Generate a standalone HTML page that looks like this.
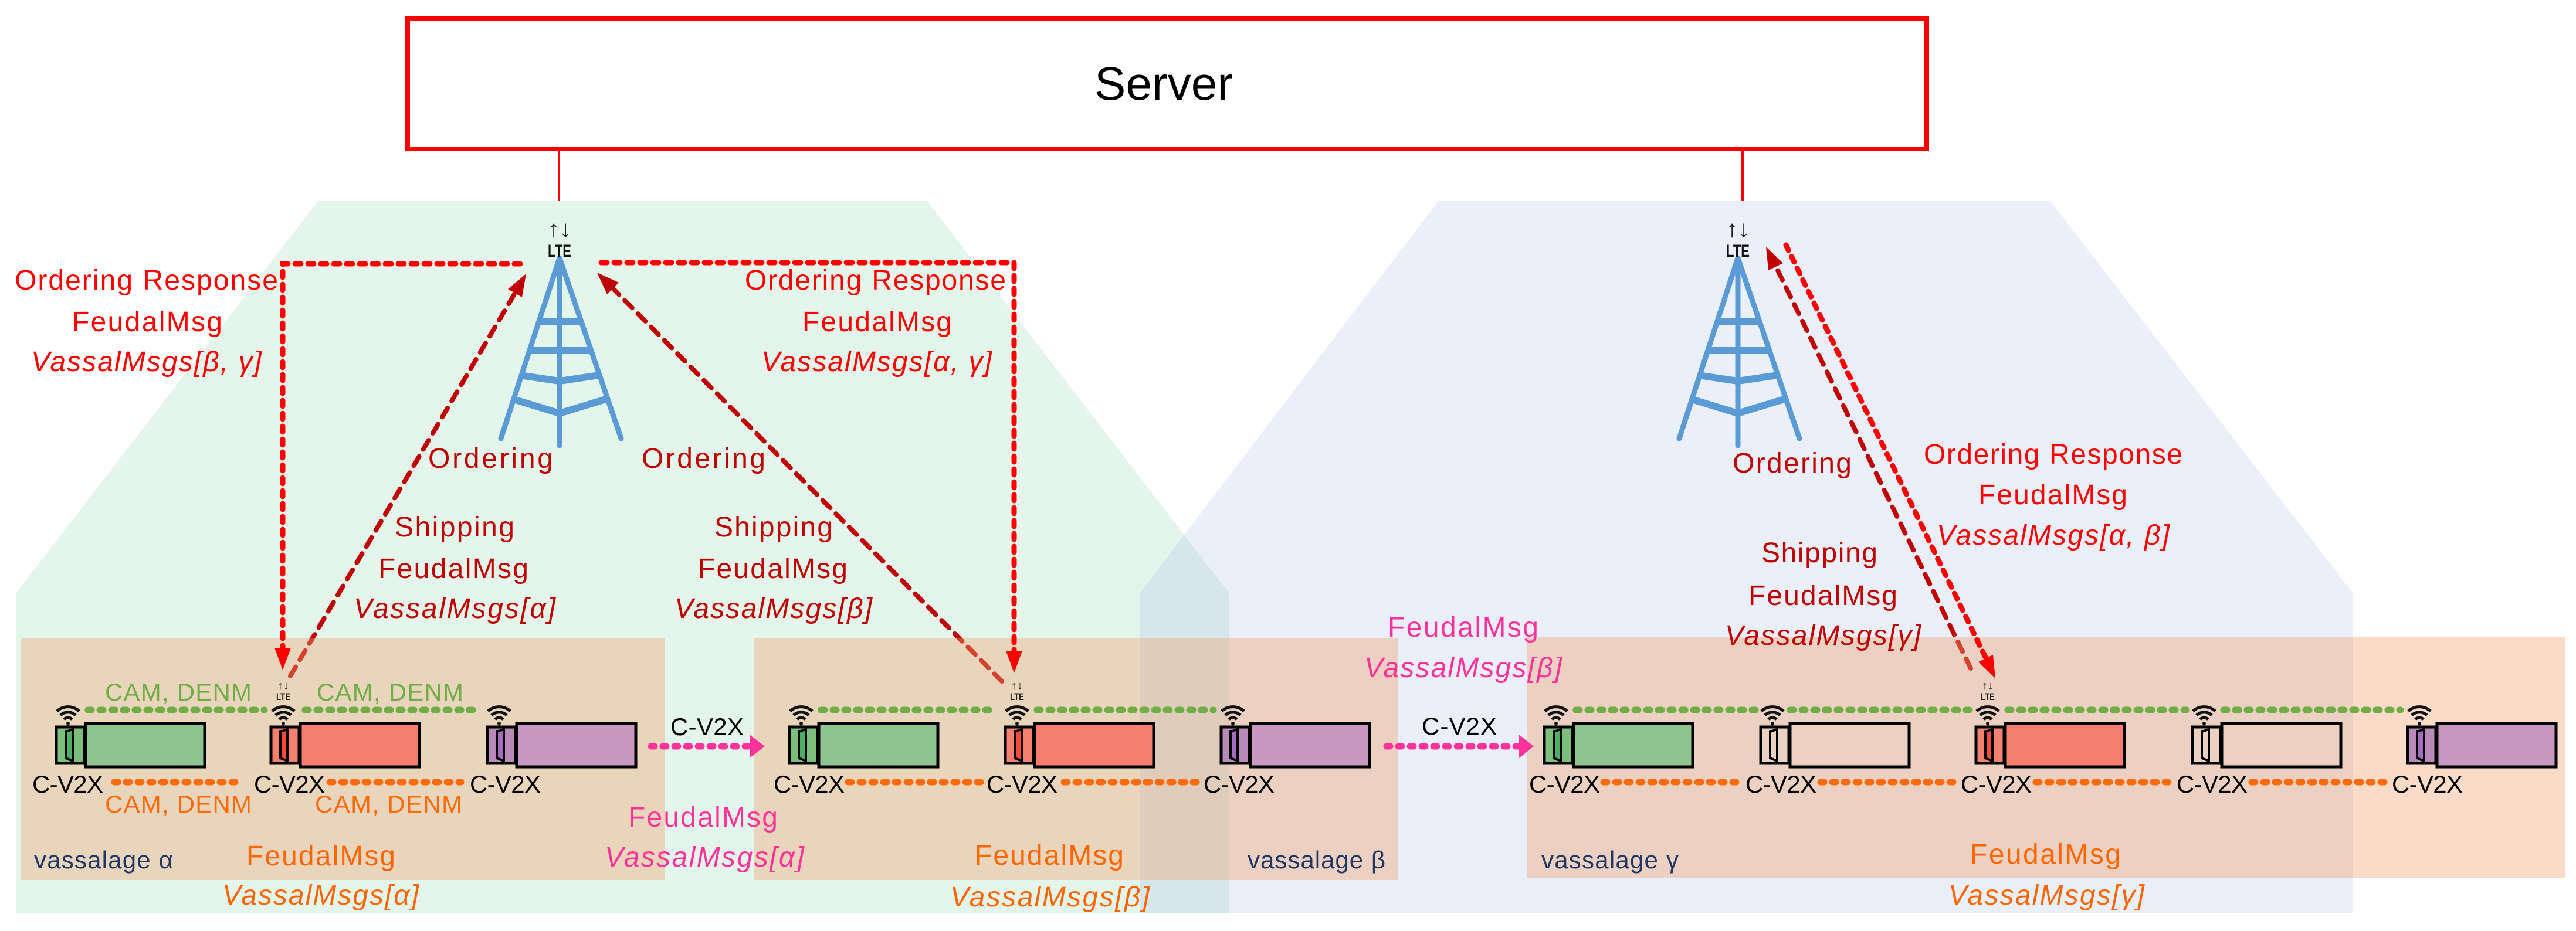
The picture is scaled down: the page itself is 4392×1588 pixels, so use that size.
<!DOCTYPE html>
<html><head><meta charset="utf-8"><style>html,body{margin:0;padding:0;background:#fff}svg{display:block}</style></head>
<body>
<svg xmlns="http://www.w3.org/2000/svg" width="4392" height="1588" viewBox="0 0 4392 1588" font-family="'Liberation Sans', sans-serif">
<rect width="4392" height="1588" fill="#fff"/>
<!-- regions -->
<polygon points="543,342 1580,342 2095,1011 2095,1558 28,1558 28,1011" fill="#e4f5ec"/>
<polygon points="2453,342 3495,342 4011,1011 4011,1558 1944,1558 1944,1011" fill="rgb(175,195,230)" fill-opacity="0.26"/>
<!-- server -->
<rect x="695" y="31" width="2590" height="223" fill="#fff" stroke="#ff0000" stroke-width="8"/>
<text x="1984" y="170" font-size="80" text-anchor="middle" textLength="236" lengthAdjust="spacingAndGlyphs">Server</text>
<line x1="953" y1="258" x2="953" y2="342" stroke="#ff0000" stroke-width="4"/>
<line x1="2971" y1="258" x2="2971" y2="342" stroke="#ff0000" stroke-width="4"/>

<!-- towers -->
<g stroke="#5b9bd5" stroke-width="9" fill="none" stroke-linecap="round">
  <path d="M954,440 L854,748 M954,440 L1059,748 M954,440 L954,760"/>
  <path stroke-width="12" stroke-linecap="butt" d="M918,548 L990,548 M901,598 L1007,598 M886,640 L954,650 L1022,640 M872,680 L954,705 L1036,680"/>
  <path d="M2963,440 L2863,748 M2963,440 L3068,748 M2963,440 L2963,760"/>
  <path stroke-width="12" stroke-linecap="butt" d="M2927,548 L2999,548 M2910,598 L3016,598 M2895,640 L2963,650 L3031,640 M2881,680 L2963,705 L3045,680"/>
</g>
<!-- big LTE icons -->
<g font-weight="bold" text-anchor="middle" fill="#111">
  <text x="954" y="404" font-size="40">↑↓</text>
  <text x="954" y="438" font-size="30" textLength="40" lengthAdjust="spacingAndGlyphs">LTE</text>
  <text x="2963" y="404" font-size="40">↑↓</text>
  <text x="2963" y="438" font-size="30" textLength="40" lengthAdjust="spacingAndGlyphs">LTE</text>
</g>

<!-- dark red shipping lines -->
<g stroke="#c00000" stroke-width="8" fill="none" stroke-dasharray="18 14" stroke-linecap="round">
  <line x1="495" y1="1153" x2="878" y2="500"/>
  <line x1="1708" y1="1162" x2="1045" y2="492"/>
  <line x1="3360" y1="1140" x2="3028" y2="455"/>
</g>
<g fill="#c00000">
  <polygon points="897,467 890,507 866,493"/>
  <polygon points="1018,465 1055,482 1035,502"/>
  <polygon points="3011,421 3040,449 3015,461"/>
</g>

<!-- vassalage boxes -->
<g fill="rgb(240,165,115)" fill-opacity="0.4">
  <rect x="36" y="1089" width="1098" height="412"/>
  <rect x="1286" y="1088" width="1097" height="413"/>
  <rect x="2604" y="1086" width="1770" height="412"/>
</g>

<!-- red ordering response lines -->
<g stroke="#ff0000" stroke-width="9" fill="none" stroke-dasharray="10 12" stroke-linecap="round">
  <polyline points="887,450 482,450 482,1105"/>
  <polyline points="1025,448 1729,448 1729,1110"/>
  <line x1="3045" y1="418" x2="3386" y2="1123"/>
</g>
<g fill="#ff0000">
  <polygon points="468,1105 496,1105 482,1143"/>
  <polygon points="1715,1110 1743,1110 1729,1148"/>
  <polygon points="3402,1157 3398,1117 3373,1129"/>
</g>

<!-- green dotted -->
<g stroke="#70ad47" stroke-width="11" stroke-dasharray="6 14" stroke-linecap="round" fill="none">
  <line x1="150" y1="1211" x2="451" y2="1211"/><line x1="520" y1="1211" x2="817" y2="1211"/>
  <line x1="1400" y1="1211" x2="1698" y2="1211"/><line x1="1768" y1="1211" x2="2069" y2="1211"/>
  <line x1="2687" y1="1211" x2="2997" y2="1211"/><line x1="3052" y1="1211" x2="3359" y2="1211"/>
  <line x1="3423" y1="1211" x2="3728" y2="1211"/><line x1="3791" y1="1211" x2="4093" y2="1211"/>
</g>
<!-- orange dotted -->
<g stroke="#ff6a0a" stroke-width="11" stroke-dasharray="6 14" stroke-linecap="round" fill="none">
  <line x1="195" y1="1334" x2="402" y2="1334"/><line x1="562" y1="1334" x2="786" y2="1334"/>
  <line x1="1446" y1="1334" x2="1673" y2="1334"/><line x1="1814" y1="1334" x2="2048" y2="1334"/>
  <line x1="2734" y1="1334" x2="2960" y2="1334"/><line x1="3104" y1="1334" x2="3330" y2="1334"/>
  <line x1="3471" y1="1334" x2="3698" y2="1334"/><line x1="3839" y1="1334" x2="4066" y2="1334"/>
</g>

<!-- pink arrows -->
<g stroke="#ff3399" stroke-width="11" stroke-dasharray="6 14" stroke-linecap="round">
  <line x1="1110" y1="1273" x2="1276" y2="1273"/>
  <line x1="2364" y1="1273" x2="2588" y2="1273"/>
</g>
<g fill="#ff3399">
  <polygon points="1278,1253 1304,1273 1278,1293"/>
  <polygon points="2590,1253 2615,1273 2590,1293"/>
</g>

<!-- cars -->
<defs>
  <g id="wifi" fill="none" stroke="#111" stroke-width="5">
    <path d="M-7,-7 A10,10 0 0 1 7,-7"/>
    <path d="M-13,-14 A19,19 0 0 1 13,-14"/>
    <path d="M-19,-21 A28,28 0 0 1 19,-21"/>
    <circle cx="0" cy="0" r="3" fill="#111" stroke="none"/>
    <line x1="0" y1="0" x2="0" y2="6" stroke-width="3"/>
  </g>
</defs>
<g stroke="#000" stroke-width="5">
  <!-- alpha -->
  <rect x="96" y="1240" width="48" height="62" fill="#7cbf7c"/><rect x="146" y="1234" width="203" height="74" fill="#8fc38f"/>
  <rect x="462" y="1240" width="48" height="62" fill="#f4806f"/><rect x="512" y="1234" width="203" height="74" fill="#f47f6f"/>
  <rect x="831" y="1240" width="48" height="62" fill="#b88ab8"/><rect x="881" y="1234" width="203" height="74" fill="#c897c2"/>
  <!-- beta -->
  <rect x="1346" y="1240" width="48" height="62" fill="#7cbf7c"/><rect x="1396" y="1234" width="203" height="74" fill="#8fc38f"/>
  <rect x="1714" y="1240" width="48" height="62" fill="#f4806f"/><rect x="1764" y="1234" width="203" height="74" fill="#f47f6f"/>
  <rect x="2082" y="1240" width="48" height="62" fill="#b88ab8"/><rect x="2132" y="1234" width="203" height="74" fill="#c897c2"/>
  <!-- gamma -->
  <rect x="2633" y="1240" width="48" height="62" fill="#7cbf7c"/><rect x="2683" y="1234" width="203" height="74" fill="#8fc38f"/>
  <rect x="3002" y="1240" width="48" height="62" fill="none"/><rect x="3052" y="1234" width="203" height="74" fill="none"/>
  <rect x="3369" y="1240" width="48" height="62" fill="#f4806f"/><rect x="3419" y="1234" width="203" height="74" fill="#f47f6f"/>
  <rect x="3738" y="1240" width="48" height="62" fill="none"/><rect x="3788" y="1234" width="203" height="74" fill="none"/>
  <rect x="4105" y="1240" width="48" height="62" fill="#b88ab8"/><rect x="4155" y="1234" width="203" height="74" fill="#c897c2"/>
</g>
<g stroke="#000" stroke-width="4">
  <polygon points="112,1248 124,1244 124,1298 112,1293" fill="#4caf63"/>
  <polygon points="478,1248 490,1244 490,1298 478,1293" fill="#f44a3f"/>
  <polygon points="847,1248 859,1244 859,1298 847,1293" fill="#a66bc0"/>
  <polygon points="1362,1248 1374,1244 1374,1298 1362,1293" fill="#4caf63"/>
  <polygon points="1730,1248 1742,1244 1742,1298 1730,1293" fill="#f44a3f"/>
  <polygon points="2098,1248 2110,1244 2110,1298 2098,1293" fill="#a66bc0"/>
  <polygon points="2649,1248 2661,1244 2661,1298 2649,1293" fill="#4caf63"/>
  <polygon points="3018,1248 3030,1244 3030,1298 3018,1293" fill="none"/>
  <polygon points="3385,1248 3397,1244 3397,1298 3385,1293" fill="#f44a3f"/>
  <polygon points="3754,1248 3766,1244 3766,1298 3754,1293" fill="none"/>
  <polygon points="4121,1248 4133,1244 4133,1298 4121,1293" fill="#a66bc0"/>
</g>
<use href="#wifi" x="116" y="1234"/><use href="#wifi" x="483" y="1234"/><use href="#wifi" x="851" y="1234"/>
<use href="#wifi" x="1366" y="1234"/><use href="#wifi" x="1734" y="1234"/><use href="#wifi" x="2102" y="1234"/>
<use href="#wifi" x="2653" y="1234"/><use href="#wifi" x="3022" y="1234"/><use href="#wifi" x="3389" y="1234"/>
<use href="#wifi" x="3758" y="1234"/><use href="#wifi" x="4125" y="1234"/>

<!-- small LTE icons -->
<g font-weight="bold" text-anchor="middle" fill="#222">
  <text x="483" y="1176" font-size="20">↑↓</text><text x="483" y="1194" font-size="17" textLength="24" lengthAdjust="spacingAndGlyphs">LTE</text>
  <text x="1734" y="1176" font-size="20">↑↓</text><text x="1734" y="1194" font-size="17" textLength="24" lengthAdjust="spacingAndGlyphs">LTE</text>
  <text x="3389" y="1176" font-size="20">↑↓</text><text x="3389" y="1194" font-size="17" textLength="24" lengthAdjust="spacingAndGlyphs">LTE</text>
</g>

<!-- C-V2X labels -->
<g font-size="42" fill="#000" lengthAdjust="spacingAndGlyphs">
  <text x="55" y="1352" textLength="121">C-V2X</text>
  <text x="433" y="1352" textLength="121">C-V2X</text>
  <text x="801" y="1352" textLength="121">C-V2X</text>
  <text x="1319" y="1352" textLength="121">C-V2X</text>
  <text x="1682" y="1352" textLength="121">C-V2X</text>
  <text x="2052" y="1352" textLength="121">C-V2X</text>
  <text x="2607" y="1352" textLength="121">C-V2X</text>
  <text x="2976" y="1352" textLength="121">C-V2X</text>
  <text x="3343" y="1352" textLength="121">C-V2X</text>
  <text x="3711" y="1352" textLength="121">C-V2X</text>
  <text x="4078" y="1352" textLength="121">C-V2X</text>
  <text x="1143" y="1254" textLength="125">C-V2X</text>
  <text x="2424" y="1253" textLength="128">C-V2X</text>
</g>

<!-- CAM DENM -->
<g font-size="42" lengthAdjust="spacingAndGlyphs">
  <text x="179" y="1195" fill="#70ad47" textLength="250">CAM, DENM</text>
  <text x="540" y="1195" fill="#70ad47" textLength="250">CAM, DENM</text>
  <text x="179" y="1386" fill="#ff6a0a" textLength="250">CAM, DENM</text>
  <text x="537" y="1386" fill="#ff6a0a" textLength="251">CAM, DENM</text>
</g>

<!-- labels -->
<g font-size="48" lengthAdjust="spacingAndGlyphs">
  <g fill="#ff0000">
    <text x="25" y="494" textLength="449">Ordering Response</text>
    <text x="123" y="565" textLength="256">FeudalMsg</text>
    <text x="53" y="633" textLength="393" font-style="italic">VassalMsgs[β, γ]</text>
    <text x="1270" y="494" textLength="445">Ordering Response</text>
    <text x="1368" y="565" textLength="255">FeudalMsg</text>
    <text x="1298" y="633" textLength="393" font-style="italic">VassalMsgs[α, γ]</text>
    <text x="3280" y="791" textLength="441">Ordering Response</text>
    <text x="3373" y="860" textLength="254">FeudalMsg</text>
    <text x="3302" y="929" textLength="397" font-style="italic">VassalMsgs[α, β]</text>
  </g>
  <g fill="#c00000">
    <text x="730" y="798" textLength="213">Ordering</text>
    <text x="1094" y="798" textLength="211">Ordering</text>
    <text x="673" y="915" textLength="204">Shipping</text>
    <text x="645" y="986" textLength="256">FeudalMsg</text>
    <text x="603" y="1054" textLength="344" font-style="italic">VassalMsgs[α]</text>
    <text x="1218" y="915" textLength="202">Shipping</text>
    <text x="1190" y="986" textLength="255">FeudalMsg</text>
    <text x="1150" y="1054" textLength="337" font-style="italic">VassalMsgs[β]</text>
    <text x="2954" y="806" textLength="203">Ordering</text>
    <text x="3003" y="959" textLength="198">Shipping</text>
    <text x="2981" y="1032" textLength="254">FeudalMsg</text>
    <text x="2941" y="1100" textLength="334" font-style="italic">VassalMsgs[γ]</text>
  </g>
  <g fill="#ff3399">
    <text x="2366" y="1086" textLength="257">FeudalMsg</text>
    <text x="2326" y="1155" textLength="337" font-style="italic">VassalMsgs[β]</text>
    <text x="1071" y="1410" textLength="255">FeudalMsg</text>
    <text x="1031" y="1478" textLength="340" font-style="italic">VassalMsgs[α]</text>
  </g>
  <g fill="#ff6600">
    <text x="420" y="1476" textLength="254">FeudalMsg</text>
    <text x="379" y="1543" textLength="335" font-style="italic">VassalMsgs[α]</text>
    <text x="1662" y="1475" textLength="254">FeudalMsg</text>
    <text x="1620" y="1546" textLength="340" font-style="italic">VassalMsgs[β]</text>
    <text x="3359" y="1473" textLength="257">FeudalMsg</text>
    <text x="3322" y="1543" textLength="334" font-style="italic">VassalMsgs[γ]</text>
  </g>
  <g fill="#203864" font-size="42">
    <text x="58" y="1481" textLength="237">vassalage α</text>
    <text x="2127" y="1481" textLength="235">vassalage β</text>
    <text x="2628" y="1481" textLength="234">vassalage γ</text>
  </g>
</g>
</svg>
</body></html>
